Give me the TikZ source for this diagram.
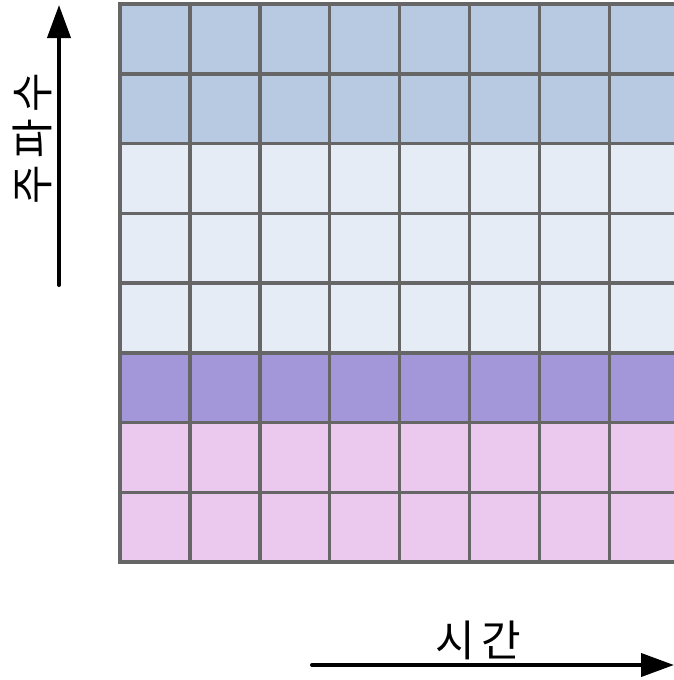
\documentclass[tikz,border=0pt]{standalone}
\usepackage{fontspec}
\newfontfamily\kor[LetterSpace=15]{Noto Sans CJK KR}
\usepackage{tikz}
\usetikzlibrary{
  positioning,
  arrows.meta
}
\definecolor{bandblue}{HTML}{B8C9E2}
\definecolor{bandpale}{HTML}{E5ECF6}
\definecolor{bandviolet}{HTML}{A396D9}
\definecolor{bandpink}{HTML}{EBC9EF}
\definecolor{gridgray}{HTML}{666666}
\tikzset{
  gridline/.style={draw=gridgray,line width=3.5pt,line cap=rect},
  axisarrow/.style={-{Triangle[length=33pt,width=23pt]},line width=4pt,line cap=round},
  axislabel/.style={font=\kor\fontsize{43}{43}\selectfont,inner sep=0pt}
}

\begin{document}
\begin{tikzpicture}[x=1pt,y=-1pt]
    \useasboundingbox (0,0) rectangle (674,680);
    % Bandas de frecuencia
    \foreach \r/\col in {0/bandblue,1/bandblue,2/bandpale,3/bandpale,4/bandpale,5/bandviolet,6/bandpink,7/bandpink}
        \fill[\col] (120,4+69.75*\r) rectangle (674,73.75+69.75*\r);
    \foreach \r in {0,...,8}
        \draw[gridline] (120,4+69.75*\r) -- (674,4+69.75*\r);
    \foreach \c in {0,...,7}
        \draw[gridline] (120+69.9*\c,4) -- (120+69.9*\c,562);

    % Ejes
    \coordinate (freqtail) at (59,285);
    \coordinate (freqhead) at (59,5);
    \draw[axisarrow] (freqtail) -- (freqhead);
    \node[axislabel,rotate=90] (freqlabel) at (32,139) {주파수};

    \coordinate (timetail) at (312,665);
    \coordinate (timehead) at (674,665);
    \draw[axisarrow] (timetail) -- (timehead);
    \node[axislabel] (timelabel) at (478,640) {시간};
\end{tikzpicture}
\end{document}
